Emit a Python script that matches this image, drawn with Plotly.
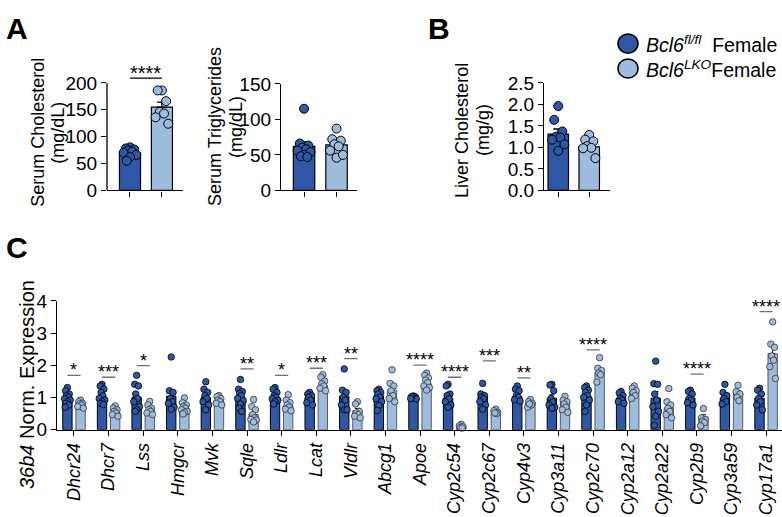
import numpy as np
import plotly.graph_objects as go

W, H = 782, 517
FONT = "Liberation Sans, Arial, sans-serif"
DARK = "rgb(46,88,166)"
LIGHT = "rgb(158,188,222)"

# ---------------- data ----------------
groups = ["Bcl6 fl/fl Female", "Bcl6 LKO Female"]

chol_fl = [80, 78, 76, 74, 72, 70, 66, 62, 55]
chol_lko = [186, 186, 166, 146, 143, 136, 124]
chol_mean = [70, 155]

tg_fl = [115, 66, 63, 60, 58, 56, 54, 50, 48, 47]
tg_lko = [87, 72, 70, 65, 62, 56, 46, 50]
tg_mean = [62, 64]

liver_fl = [1.96, 1.64, 1.37, 1.25, 1.23, 1.18, 1.07, 0.92]
liver_lko = [1.29, 1.18, 1.14, 1.03, 0.99, 0.98, 0.75]
liver_mean = [1.31, 1.01]

genes = ["Dhcr24", "Dhcr7", "Lss", "Hmgcr", "Mvk", "Sqle", "Ldlr", "Lcat", "Vldlr",
         "Abcg1", "Apoe", "Cyp2c54", "Cyp2c67", "Cyp4v3", "Cyp3a11", "Cyp2c70",
         "Cyp2a12", "Cyp2a22", "Cyp2b9", "Cyp3a59", "Cyp17a1"]

fl_mean = [1.01, 1.0, 1.0, 1.04, 1.0, 1.0, 0.98, 1.0, 1.04, 1.06, 1.0, 0.98, 1.04,
           1.03, 0.98, 1.04, 0.98, 0.98, 0.98, 0.98, 0.98]
lko_mean = [0.82, 0.54, 0.59, 0.67, 0.9, 0.47, 0.75, 1.38, 0.59, 1.23, 1.43, 0.05,
            0.54, 0.82, 0.84, 1.79, 1.18, 0.67, 0.39, 1.13, 2.36]

fl_pts = [
    [1.31, 1.21, 1.11, 1.06, 1.01, 0.96, 0.92, 0.87, 0.82, 0.77, 0.70],
    [1.41, 1.36, 1.26, 1.16, 1.05, 0.97, 0.92, 0.87, 0.82, 0.78],
    [1.69, 1.41, 1.36, 1.11, 0.97, 0.87, 0.72, 0.62, 0.57],
    [2.26, 1.21, 1.16, 0.97, 0.87, 0.82, 0.70, 0.64],
    [1.49, 1.26, 1.16, 1.06, 0.97, 0.87, 0.77, 0.62],
    [1.56, 1.26, 1.19, 1.13, 1.06, 0.97, 0.90, 0.80, 0.67, 0.57],
    [1.31, 1.26, 1.16, 1.06, 1.01, 0.96, 0.92, 0.87, 0.80],
    [1.16, 1.11, 1.06, 1.01, 0.92, 0.84, 0.77],
    [1.89, 1.23, 1.16, 1.01, 0.92, 0.77, 0.62, 0.62],
    [1.26, 1.21, 1.16, 1.11, 1.01, 0.96, 0.87, 0.75, 0.60],
    [1.05, 1.02, 1.00, 0.98, 0.96, 1.03, 0.97],
    [1.41, 1.36, 1.11, 1.06, 0.96, 0.87, 0.77, 0.70],
    [1.44, 1.11, 1.06, 1.01, 0.96, 0.87, 0.77, 0.64],
    [1.36, 1.26, 1.21, 1.06, 1.01, 0.93, 0.89],
    [1.41, 1.39, 1.21, 0.97, 0.87, 0.77, 0.70, 0.67],
    [1.36, 1.31, 1.23, 1.16, 1.06, 1.01, 0.92, 0.77, 0.57],
    [1.19, 1.14, 1.06, 0.97, 0.92, 0.87, 0.82],
    [2.13, 1.43, 1.41, 1.11, 0.92, 0.72, 0.57, 0.42, 0.14],
    [1.23, 1.19, 1.11, 0.97, 0.92, 0.84, 0.77],
    [1.41, 1.16, 1.06, 0.97, 0.87, 0.80],
    [1.29, 1.23, 1.11, 0.97, 0.87, 0.77, 0.62],
]
lko_pts = [
    [0.92, 0.87, 0.82, 0.80, 0.77, 0.72, 0.67],
    [0.74, 0.67, 0.62, 0.57, 0.52, 0.47, 0.42],
    [0.88, 0.77, 0.67, 0.62, 0.57, 0.52, 0.47],
    [0.99, 0.84, 0.77, 0.72, 0.67, 0.62, 0.57, 0.54, 0.49],
    [1.06, 1.03, 0.97, 0.92, 0.87, 0.82, 0.77],
    [0.94, 0.72, 0.62, 0.47, 0.37, 0.32, 0.30, 0.24],
    [1.09, 0.92, 0.84, 0.77, 0.70, 0.64, 0.59],
    [1.71, 1.63, 1.51, 1.43, 1.36, 1.29, 1.21],
    [0.87, 0.80, 0.57, 0.52, 0.47, 0.42, 0.37],
    [1.86, 1.44, 1.36, 1.21, 1.06, 0.97, 0.87],
    [1.76, 1.69, 1.61, 1.54, 1.46, 1.36, 1.31, 1.23],
    [0.17, 0.12, 0.09, 0.07, 0.05],
    [0.64, 0.59, 0.54, 0.50, 0.52],
    [0.94, 0.87, 0.82, 0.77, 0.70, 0.80],
    [1.04, 0.92, 0.87, 0.80, 0.70, 0.62, 0.54],
    [2.24, 1.91, 1.84, 1.76, 1.71, 1.48],
    [1.36, 1.29, 1.21, 1.16, 1.06, 0.97],
    [1.28, 0.87, 0.77, 0.67, 0.57, 0.47, 0.37],
    [0.66, 0.37, 0.32, 0.27, 0.22, 0.12],
    [1.38, 1.18, 1.11, 1.01, 0.90],
    [3.35, 2.66, 2.56, 2.29, 2.16, 1.96, 1.59],
]

sig_genes = ["Dhcr24", "Dhcr7", "Lss", "Sqle", "Ldlr", "Lcat", "Vldlr", "Apoe",
             "Cyp2c54", "Cyp2c67", "Cyp4v3", "Cyp2c70", "Cyp2b9", "Cyp17a1"]
sig_labels = ["*", "***", "*", "**", "*", "***", "**", "****", "****", "***", "**",
              "****", "****", "****"]
sig_y = [1.69, 1.63, 1.99, 1.89, 1.69, 1.91, 2.21, 2.01, 1.63, 2.14, 1.61, 2.48,
         1.73, 3.67]

chol_sig_label = "****"
chol_sig_y = 209

# ---------------- helpers ----------------
def xd(a, b):
    return [a / W, b / W]

def yd(bottom, top):
    return [1 - bottom / H, 1 - top / H]

JIT = [0, -0.6, 0.6, -0.3, 0.3, -0.9, 0.9, 0.0, -0.45, 0.45, -0.75, 0.75]

def jitter(vals, center, half):
    order = np.argsort(vals)[::-1]
    xs = np.zeros(len(vals))
    for k, idx in enumerate(order):
        xs[idx] = center + JIT[k % len(JIT)] * half
    return xs

def sem(v):
    v = np.asarray(v, float)
    return float(np.std(v, ddof=1) / np.sqrt(len(v)))

fig = go.Figure()

def add_panel(xa, ya, means, pts_list, bar_w, half, msize, capw):
    for k, (m, pts, col) in enumerate(zip(means, pts_list, [DARK, LIGHT])):
        fig.add_trace(go.Bar(
            x=[k], y=[m], width=bar_w, marker=dict(color=col, line=dict(color="black", width=1.2)),
            error_y=dict(type="data", symmetric=False, array=[sem(pts)], arrayminus=[0],
                         color="black", thickness=1.3, width=capw),
            xaxis=xa, yaxis=ya, showlegend=False))
    for k, (pts, col) in enumerate(zip(pts_list, [DARK, LIGHT])):
        fig.add_trace(go.Scatter(
            x=jitter(pts, k, half), y=pts, mode="markers",
            marker=dict(size=msize, color=col, line=dict(color="black", width=1)),
            xaxis=xa, yaxis=ya, showlegend=False, cliponaxis=False))

add_panel("x", "y", chol_mean, [chol_fl, chol_lko], 0.66, 0.22, 9, 5)
add_panel("x2", "y2", tg_mean, [tg_fl, tg_lko], 0.66, 0.22, 9, 5)
add_panel("x3", "y3", liver_mean, [liver_fl, liver_lko], 0.66, 0.22, 9, 5)

# panel C
gi = np.arange(len(genes))
OFF = 0.19
BW = 0.27
fig.add_trace(go.Bar(
    x=gi - OFF, y=fl_mean, width=BW,
    marker=dict(color=DARK, line=dict(color="black", width=1)),
    error_y=dict(type="data", symmetric=False, array=[sem(p) for p in fl_pts],
                 arrayminus=[0] * len(genes), color="black", thickness=1, width=2.5),
    xaxis="x4", yaxis="y4", showlegend=False))
fig.add_trace(go.Bar(
    x=gi + OFF, y=lko_mean, width=BW,
    marker=dict(color=LIGHT, line=dict(color="rgb(90,90,90)", width=1)),
    error_y=dict(type="data", symmetric=False, array=[sem(p) for p in lko_pts],
                 arrayminus=[0] * len(genes), color="black", thickness=1, width=2.5),
    xaxis="x4", yaxis="y4", showlegend=False))
for pts_all, sign, col, lc in [(fl_pts, -1, DARK, "black"), (lko_pts, 1, LIGHT, "rgb(50,50,50)")]:
    xs, ys = [], []
    for i, pts in enumerate(pts_all):
        xs.extend(jitter(pts, i + sign * OFF, 0.09))
        ys.extend(pts)
    fig.add_trace(go.Scatter(
        x=xs, y=ys, mode="markers",
        marker=dict(size=6.5, color=col, line=dict(color=lc, width=0.8)),
        xaxis="x4", yaxis="y4", showlegend=False, cliponaxis=False))

# ---------------- axes ----------------
tickfont = dict(family=FONT, size=19, color="black")
ax_common = dict(showgrid=False, zeroline=False, ticks="outside", ticklen=5,
                 tickwidth=1.3, tickcolor="black", linecolor="black", linewidth=1.3,
                 fixedrange=True)

layout = dict(
    width=W, height=H, margin=dict(l=0, r=0, t=0, b=0),
    paper_bgcolor="white", plot_bgcolor="rgba(0,0,0,0)",
    barmode="overlay", font=dict(family=FONT, color="black"),
    xaxis=dict(domain=xd(107, 183), range=[-0.72, 1.66], tickvals=[0, 1],
               showticklabels=False, showline=True, anchor="y", tickfont=tickfont, **ax_common),
    yaxis=dict(domain=yd(188, 62), range=[0, 225], tickvals=[0, 50, 100, 150, 200],
               showline=False, anchor="x", tickfont=tickfont, **ax_common),
    xaxis2=dict(domain=xd(281, 357), range=[-0.71, 1.63], tickvals=[0, 1],
                showticklabels=False, showline=True, anchor="y2", tickfont=tickfont, **ax_common),
    yaxis2=dict(domain=yd(188, 77), range=[0, 150], tickvals=[0, 50, 100, 150],
                showline=True, anchor="x2", tickfont=tickfont, **ax_common),
    xaxis3=dict(domain=xd(544, 610), range=[-0.46, 1.67], tickvals=[0, 1],
                showticklabels=False, showline=True, anchor="y3", tickfont=tickfont, **ax_common),
    yaxis3=dict(domain=yd(188, 76), range=[0, 2.5], tickvals=[0, 0.5, 1.0, 1.5, 2.0, 2.5],
                tickformat=".1f", showline=True, anchor="x3", tickfont=tickfont, **ax_common),
    xaxis4=dict(domain=xd(57, 782), range=[-0.491, 20.46], tickvals=list(gi),
                ticktext=[f"<i>{g}</i>" for g in genes], tickangle=-90,
                tickfont=dict(family=FONT, size=18, color="black"),
                showline=True, anchor="y4", **ax_common),
    yaxis4=dict(domain=yd(437.5, 303.3), range=[0, 4], tickvals=[0, 1, 2, 3, 4],
                showline=True, anchor="x4", tickfont=tickfont, **ax_common),
)
fig.update_layout(**layout)

shapes = []
annotations = []
shapes.append(dict(type="line", xref="x domain", yref="y", x0=0, x1=0, y0=0, y1=200,
                   line=dict(color="black", width=1.3)))
shapes.append(dict(type="line", xref="x", yref="y", x0=0, x1=1, y0=chol_sig_y, y1=chol_sig_y,
                   line=dict(color="black", width=1.3)))
annotations.append(dict(x=0.5, y=chol_sig_y, xref="x", yref="y", text=chol_sig_label,
                        showarrow=False, yanchor="bottom", yshift=-8,
                        font=dict(family=FONT, size=20, color="black")))
for g, lab, yv in zip(sig_genes, sig_labels, sig_y):
    i = genes.index(g)
    shapes.append(dict(type="line", xref="x4", yref="y4", x0=i - OFF, x1=i + OFF, y0=yv, y1=yv,
                       line=dict(color="rgb(110,110,110)", width=1.3)))
    annotations.append(dict(x=i, y=yv, xref="x4", yref="y4", text=lab, showarrow=False,
                            yanchor="bottom", yshift=-7,
                            font=dict(family=FONT, size=18, color="black")))

def ytitle(text, xpx, ypx, size=18):
    annotations.append(dict(x=xpx / W, y=1 - ypx / H, xref="paper", yref="paper", text=text,
                            textangle=-90, showarrow=False, xanchor="center", yanchor="middle",
                            font=dict(family=FONT, size=size, color="black")))

ytitle("Serum Cholesterol", 38, 128)
ytitle("(mg/dL)", 58, 128)
ytitle("Serum Triglycerides", 215, 122)
ytitle("(mg/dL)", 236, 122)
ytitle("Liver Cholesterol", 462, 125)
ytitle("(mg/g)", 483, 125)
ytitle("<i>36b4</i> Norm. Expression", 27, 391, size=20)

for lab, xp, yp in [("A", 4, 0), ("B", 426, 0), ("C", 4, 228)]:
    annotations.append(dict(x=xp / W, y=1 - yp / H, xref="paper", yref="paper", text=f"<b>{lab}</b>",
                            showarrow=False, xanchor="left", yanchor="top",
                            font=dict(family=FONT, size=30, color="black")))

leg = [(DARK, "<i>Bcl6</i><sup><i>fl/fl</i></sup>  Female", 35),
       (LIGHT, "<i>Bcl6</i><sup><i>LKO</i></sup>Female", 61)]
for col, txt, yp in leg:
    shapes.append(dict(type="circle", xref="paper", yref="paper",
                       x0=618 / W, x1=638 / W, y0=1 - (yp + 10) / H, y1=1 - (yp - 10) / H,
                       fillcolor=col, line=dict(color="black", width=1.5)))
    annotations.append(dict(x=644 / W, y=1 - yp / H, xref="paper", yref="paper", text=txt,
                            showarrow=False, xanchor="left", yanchor="middle",
                            font=dict(family=FONT, size=19.5, color="black")))

fig.update_layout(shapes=shapes, annotations=annotations)
fig.write_html("out.html")
